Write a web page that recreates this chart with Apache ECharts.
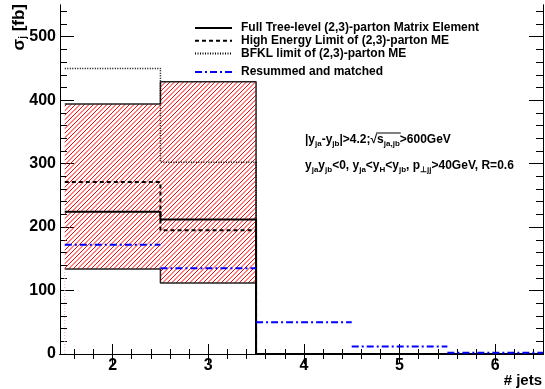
<!DOCTYPE html>
<html>

<head>
	<meta charset="UTF-8">
	<title>sigma vs jets</title>
	<script type="text/javascript" src="https://cdn.jsdelivr.net/npm/echarts@6/dist/echarts.min.js"></script>
	<style type="text/css">
		body {
			margin: 0;
			background: #ffffff;
		}

		#graph {
			width: 545px;
			height: 389px;
		}
	</style>
</head>

<body>
	<div id="graph"></div>
	<script>
		// jet multiplicity bins (bin width 1, centred on the value)
		var jets = [2, 3, 4, 5, 6];
		var fullTree = [224, 212, 0, 0, 0];
		var highEnergy = [271, 195, 0, 0, 0];
		var bfkl = [450, 302, 0, 0, 0];
		var resummed = [172, 135, 50, 12, 2];
		// hatched uncertainty band
		var bandLower = [134, 112, 0, 0, 0];
		var bandUpper = [394, 429, 0, 0, 0];

		var xTicks = [2, 3, 4, 5, 6];
		var yTicks = [0, 100, 200, 300, 400, 500];

		var FONT = "'Liberation Sans', Arial, Helvetica, sans-serif";

		var xMinor = [];
		for (var t = 1.6; t < 6.5; t += 0.2) {
			var r = Math.round(t * 10) / 10;
			if (Math.abs(r - Math.round(r)) > 0.01) xMinor.push(r);
		}
		var yMinor = [];
		for (var v = 20; v < 550; v += 20) {
			if (v % 100 != 0) yMinor.push(v);
		}

		// histogram outline: each bin flat from low edge to high edge
		function steps(vals) {
			var out = [];
			for (var i = 0; i < vals.length; i++) {
				out.push([jets[i] - 0.5, vals[i]]);
				out.push([jets[i] + 0.5, vals[i]]);
			}
			return out;
		}
		// separate horizontal pieces, no vertical joins
		function pieces(vals) {
			var out = [];
			for (var i = 0; i < vals.length; i++) {
				out.push([jets[i] - 0.5, vals[i]]);
				out.push([jets[i] + 0.5, vals[i]]);
				out.push([jets[i] + 0.5, '-']);
			}
			return out;
		}

		// red "////" hatch
		var tile = document.createElement('canvas');
		tile.width = 9;
		tile.height = 9;
		var tc = tile.getContext('2d');
		tc.strokeStyle = '#ff0000';
		tc.lineWidth = 1;
		for (var off = -9; off <= 9; off += 4.5) {
			tc.beginPath();
			tc.moveTo(off, 9);
			tc.lineTo(off + 9, 0);
			tc.stroke();
		}
		var hatch = { image: tile, repeat: 'repeat' };

		var bandData = [];
		for (var i = 0; i < jets.length; i++) {
			if (bandUpper[i] > bandLower[i]) bandData.push([jets[i], bandLower[i], bandUpper[i]]);
		}

		function renderBand(params, api) {
			var x = api.value(0);
			var p0 = api.coord([x - 0.5, api.value(2)]);
			var p1 = api.coord([x + 0.5, api.value(1)]);
			return {
				type: 'rect',
				shape: { x: p0[0], y: p0[1], width: p1[0] - p0[0], height: p1[1] - p0[1] },
				style: { fill: hatch }
			};
		}

		function xAxisDef(pos, ticks, len, labels) {
			return {
				type: 'value', position: pos, min: 1.45, max: 6.5,
				axisLine: { show: true, lineStyle: { color: '#000', width: 1 } },
				axisTick: { show: true, inside: true, length: len, customValues: ticks, lineStyle: { color: '#000' } },
				axisLabel: labels ? { show: true, customValues: ticks, margin: 4, color: '#000', fontSize: 16, fontWeight: 'bold', fontFamily: FONT } : { show: false },
				splitLine: { show: false }
			};
		}
		function yAxisDef(pos, ticks, len, labels) {
			return {
				type: 'value', position: pos, min: 0, max: 550,
				axisLine: { show: true, lineStyle: { color: '#000', width: 1 } },
				axisTick: { show: true, inside: true, length: len, customValues: ticks, lineStyle: { color: '#000' } },
				axisLabel: labels ? { show: true, customValues: ticks, margin: 4, color: '#000', fontSize: 16, fontWeight: 'bold', fontFamily: FONT } : { show: false },
				splitLine: { show: false }
			};
		}

		function lineSeries(name, data, color, width, dash) {
			return {
				name: name, type: 'line', data: data, symbol: 'none', animation: false,
				connectNulls: false,
				lineStyle: { color: color, width: width, type: dash || 'solid' },
				itemStyle: { color: color },
				z: 3
			};
		}

		// measure text for the sqrt overline
		var mc = document.createElement('canvas').getContext('2d');
		function tw(txt, size) {
			mc.font = 'bold ' + size + 'px ' + FONT;
			return mc.measureText(txt).width;
		}
		var ann1X = 305, ann1Y = 140;
		var sqStart = ann1X + tw('|y', 12) + tw('ja', 8) + tw('-y', 12) + tw('jb', 8) + tw('|>4.2;', 12);
		var sqEnd = sqStart + tw('√', 12) + tw('s', 12) + tw('ja,jb', 8);

		var rich = {
			m: { fontSize: 12, fontWeight: 'bold', fontFamily: FONT, color: '#000', lineHeight: 16 },
			s: { fontSize: 8, fontWeight: 'bold', fontFamily: FONT, color: '#000', lineHeight: 8, verticalAlign: 'bottom' }
		};

		var legendText = { color: '#000', fontSize: 12, fontWeight: 'bold', fontFamily: FONT, padding: [0, 0, 0, 4] };
		// hide the round marker ECharts puts on line legend icons
		var legendMark = { color: 'rgba(0,0,0,0)', opacity: 0, borderWidth: 0 };

		var chart = echarts.init(document.getElementById('graph'), null, { renderer: 'canvas' });
		chart.setOption({
			animation: false,
			backgroundColor: '#ffffff',
			grid: { left: 60, right: 2, top: 5, bottom: 35 },
			xAxis: [
				xAxisDef('bottom', xTicks, 10, true),
				xAxisDef('bottom', xMinor, 5, false),
				xAxisDef('top', xTicks, 10, false),
				xAxisDef('top', xMinor, 5, false)
			],
			yAxis: [
				yAxisDef('left', yTicks, 14, true),
				yAxisDef('left', yMinor, 7, false),
				yAxisDef('right', yTicks, 14, false),
				yAxisDef('right', yMinor, 7, false)
			],
			legend: [{
				data: ['Full Tree-level (2,3)-parton Matrix Element', 'High Energy Limit of (2,3)-parton ME', 'BFKL limit of (2,3)-parton ME'],
				orient: 'vertical', left: 189, top: 17, itemWidth: 37, itemHeight: 12, itemGap: 0.8,
				selectedMode: false, itemStyle: legendMark, textStyle: legendText
			}, {
				data: ['Resummed and matched'],
				orient: 'vertical', left: 189, top: 61, itemWidth: 37, itemHeight: 12,
				selectedMode: false, itemStyle: legendMark, textStyle: legendText
			}],
			series: [
				{
					type: 'custom', renderItem: renderBand, data: bandData, z: 1, clip: true, silent: true
				},
				lineSeries('band-up', steps(bandUpper), '#222', 1.5),
				lineSeries('band-low', steps(bandLower), '#222', 1.5),
				lineSeries('band-edge', [[jets[0] - 0.5, 0], [jets[0] - 0.5, bandLower[0]]], '#f4a6a6', 1, [1, 2]),
				lineSeries('Full Tree-level (2,3)-parton Matrix Element', steps(fullTree), '#000', 2),
				lineSeries('High Energy Limit of (2,3)-parton ME', steps(highEnergy), '#000', 2, [4, 3]),
				lineSeries('BFKL limit of (2,3)-parton ME', steps(bfkl), '#000', 1.5, [1, 1.5]),
				lineSeries('Resummed and matched', pieces(resummed), '#0000ff', 2, [7, 3, 2, 3])
			],
			graphic: [
				{
					type: 'text', x: 19, y: 4, rotation: Math.PI / 2,
					style: {
						text: '{a|σ}{b|j}{a| [fb]}', align: 'right', verticalAlign: 'middle',
						rich: {
							a: { fontSize: 17, fontWeight: 'bold', fontFamily: FONT, color: '#000', lineHeight: 18 },
							b: { fontSize: 10, fontWeight: 'bold', fontFamily: FONT, color: '#000', lineHeight: 10, verticalAlign: 'bottom' }
						}
					}
				},
				{
					type: 'text', x: 542, y: 381,
					style: { text: '# jets', align: 'right', verticalAlign: 'middle', font: 'bold 15px ' + FONT, fill: '#000' }
				},
				{
					type: 'text', x: ann1X, y: ann1Y,
					style: {
						text: '{m||y}{s|ja}{m|-y}{s|jb}{m||>4.2;√s}{s|ja,jb}{m|>600GeV}',
						align: 'left', verticalAlign: 'middle', rich: rich
					}
				},
				{
					type: 'line',
					shape: { x1: sqStart + tw('√', 12) - 1, y1: ann1Y - 7, x2: sqEnd + 1, y2: ann1Y - 7 },
					style: { stroke: '#000', lineWidth: 1 }
				},
				{
					type: 'text', x: 305, y: 166,
					style: {
						text: '{m|y}{s|ja}{m|y}{s|jb}{m|<0, y}{s|ja}{m|<y}{s|H}{m|<y}{s|jb}{m|, p}{s|⊥jj}{m|>40GeV, R=0.6}',
						align: 'left', verticalAlign: 'middle', rich: rich
					}
				}
			]
		});
	</script>
</body>

</html>
